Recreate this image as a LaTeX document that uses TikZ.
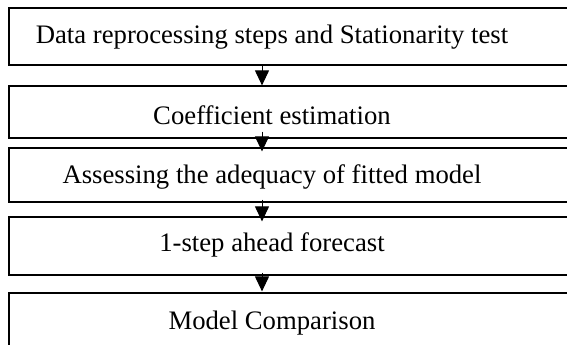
\documentclass[tikz,border=0pt]{standalone}
\usepackage{fontspec}
\setmainfont{Liberation Serif}
\usetikzlibrary{arrows.meta}
\begin{document}
\begin{tikzpicture}[x=1pt,y=-1pt,
  stepbox/.style={draw=black,line width=1.2pt,minimum width=580pt,inner sep=0pt},
  steptext/.style={inner sep=0pt,font=\fontsize{26.7}{32}\selectfont},
  arr/.style={line width=1pt,-{Triangle[width=14pt,length=15pt]}}]
\useasboundingbox (0,0) rectangle (567,345);
\clip (0,0) rectangle (567,345);
\fill[white] (0,0) rectangle (567,345);
\node[stepbox,minimum height=57pt] (b1) at (299,36.5) {};
\node[stepbox,minimum height=52pt] (b2) at (299,112) {};
\node[stepbox,minimum height=54pt] (b3) at (299,175) {};
\node[stepbox,minimum height=58pt] (b4) at (299,246) {};
\node[stepbox,minimum height=56pt] (b5) at (299,321) {};
\node[steptext] (t1) at (272,37.5) {Data reprocessing steps and Stationarity test};
\node[steptext] (t2) at (272,115) {Coefficient estimation};
\node[steptext] (t3) at (272,177) {Assessing the adequacy of fitted model};
\node[steptext] (t4) at (272,245) {1-step ahead forecast};
\node[steptext] (t5) at (272,323) {Model Comparison};
\draw[arr] ([xshift=-37pt]b1.south) -- ([xshift=-37pt]b2.north);
\draw[arr] ([xshift=-37pt,yshift=7pt]b2.south) -- ([xshift=-37pt,yshift=-4pt]b3.north);
\draw[arr] ([xshift=-37pt,yshift=3pt]b3.south) -- ([xshift=-37pt,yshift=-5pt]b4.north);
\draw[arr] ([xshift=-37pt,yshift=3pt]b4.south) -- ([xshift=-37pt,yshift=1pt]b5.north);
\end{tikzpicture}
\end{document}
